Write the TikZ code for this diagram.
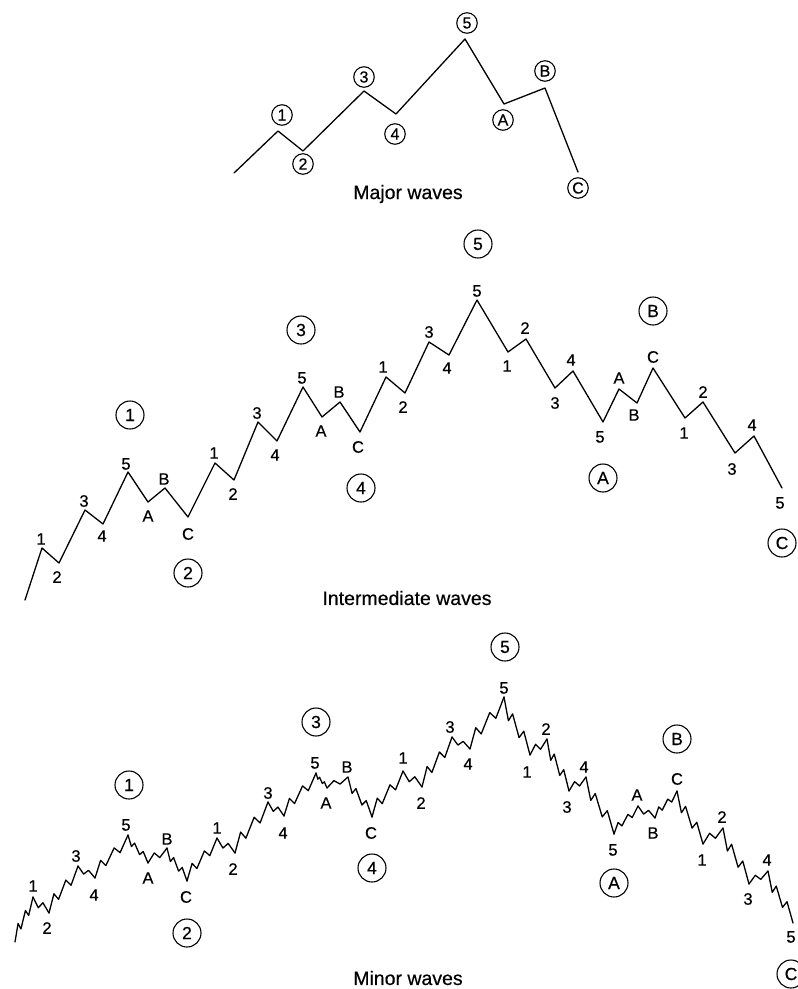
\documentclass[tikz,border=0pt]{standalone}
\usepackage{fontspec}
\setmainfont{Liberation Sans}[FakeBold=0.5]
\usetikzlibrary{calc}
\tikzset{
  wave/.style={line width=1.3pt,line join=round,line cap=round},
  lbl/.style={inner sep=0pt,font=\fontsize{16.5}{16.5}\selectfont},
  cbig/.style={circle,draw,line width=1.1pt,minimum size=28pt,inner sep=0pt,font=\fontsize{17.5}{17.5}\selectfont},
  csmall/.style={circle,draw,line width=1.1pt,minimum size=20.5pt,inner sep=0pt,font=\fontsize{16}{16}\selectfont},
  ttl/.style={inner sep=0pt,font=\fontsize{19.5}{20}\selectfont}
}
\newcommand\wfive[2]{%
  \draw[wave] let \p1=(#1), \p2=(#2) in
   (\p1) -- ({\x1+0.17*(\x2-\x1)},{\y1+0.41*(\y2-\y1)})
   -- ({\x1+0.33*(\x2-\x1)},{\y1+0.29*(\y2-\y1)})
   -- ({\x1+0.58*(\x2-\x1)},{\y1+0.70*(\y2-\y1)})
   -- ({\x1+0.76*(\x2-\x1)},{\y1+0.59*(\y2-\y1)})
   -- (\p2);}
\newcommand\wthree[2]{%
  \draw[wave] let \p1=(#1), \p2=(#2) in
   (\p1) -- ({\x1+0.33*(\x2-\x1)},{\y1+0.67*(\y2-\y1)})
   -- ({\x1+0.62*(\x2-\x1)},{\y1+0.36*(\y2-\y1)})
   -- (\p2);}
\begin{document}
\begin{tikzpicture}[x=1pt,y=-1pt]
\useasboundingbox (0,0) rectangle (798,989);
% ---------------- Major waves ----------------
\foreach \n/\x/\y in {0/234/173,1/278/131,2/303/151,3/364/91,4/396/114,5/465/39,6/504/104,7/545/88,8/578/172}
  \coordinate (M\n) at (\x,\y);
\draw[wave] (M0) \foreach \i in {1,...,8}{ -- (M\i)};
\foreach \n/\x/\y/\t in {1/282/115/1,2/303/164/2,3/364/77/3,4/395/134/4,5/467/23/5,6/503/120/A,7/545/71/B,8/578/188/C}
  \node[csmall] (MC\n) at (\x,\y) {\t};
\node[ttl] (Mt) at (408,194) {Major waves};
% ---------------- Intermediate waves ----------------
\foreach \n/\x/\y in {0/25/600,1/42/548,2/59/563,3/85/510,4/103/524,5/128/472,6/148/502,7/165/488,8/188/517,
  9/215/463,10/234/480,11/258/422,12/277/441,13/303/387,14/322/417,15/340/402,16/360/432,
  17/386/377,18/405/393,19/429/342,20/449/355,21/477/300,22/508/352,23/526/339,24/555/388,
  25/573/371,26/603/422,27/619/389,28/637/403,29/653/368,30/685/418,31/703/402,32/735/453,
  33/754/436,34/782/488}
  \coordinate (m\n) at (\x,\y);
\draw[wave] (m0) \foreach \i in {1,...,34}{ -- (m\i)};
\foreach \n/\x/\y/\t in {1/41/539/1,2/57/577/2,3/84/501/3,4/102/536/4,5/126/464/5,6/148/516/A,7/164/479/B,8/188/534/C,
  9/214/453/1,10/233/494/2,11/257/413/3,12/275/455/4,13/302/378/5,14/321/431/A,15/339/392/B,16/358/447/C,
  17/383/367/1,18/403/407/2,19/429/332/3,20/447/368/4,21/477/291/5,22/507/366/1,23/525/328/2,24/555/403/3,
  25/571/360/4,26/600/437/5,27/619/378/A,28/634/415/B,29/653/357/C,30/684/433/1,31/703/392/2,32/732/469/3,
  33/752/425/4,34/780/503/5}
  \node[lbl] (il\n) at (\x,\y) {\t};
\foreach \n/\x/\y/\t in {1/130/415/1,2/188/573/2,3/301/330/3,4/361/488/4,5/478/244/5,6/603/478/A,7/653/311/B,8/782/543/C}
  \node[cbig] (IC\n) at (\x,\y) {\t};
\node[ttl] (It) at (407,598) {Intermediate waves};
% ---------------- Minor waves ----------------
\foreach \n/\x/\y in {0/15/942,1/33/897,2/49/913,3/78/866,4/95/878,5/128/835,6/148/863,7/167/848,8/187/881,
  9/217/838,10/235/853,11/268/802,12/284/816,13/316/773,14/327/788,15/348/777,16/372/817,
  17/403/771,18/422/787,19/452/737,20/470/749,21/504/697,22/530/755,23/547/739,24/569/791,
  25/586/777,26/614/834,27/638/806,28/655/818,29/677/791,30/703/844,31/723/828,32/749/884,
  33/768/871,34/793/923}
  \coordinate (b\n) at (\x,\y);
\foreach \a/\b/\k in {0/1/5,1/2/3,2/3/5,3/4/3,4/5/5,5/6/5,6/7/3,7/8/5,8/9/5,9/10/3,10/11/5,11/12/3,12/13/5,
  13/14/5,14/15/3,15/16/5,16/17/5,17/18/3,18/19/5,19/20/3,20/21/5,21/22/5,22/23/3,23/24/5,24/25/3,25/26/5,
  26/27/5,27/28/3,28/29/5,29/30/5,30/31/3,31/32/5,32/33/3,33/34/5}
  {\ifnum\k=5 \wfive{b\a}{b\b}\else\wthree{b\a}{b\b}\fi}
\foreach \n/\x/\y/\t in {1/33/886/1,2/47/928/2,3/76/856/3,4/94/895/4,5/126/825/5,6/148/878/A,7/167/839/B,8/186/897/C,
  9/217/828/1,10/233/869/2,11/268/793/3,12/283/833/4,13/315/763/5,14/326/803/A,15/347/767/B,16/371/833/C,
  17/403/758/1,18/421/803/2,19/450/727/3,20/468/764/4,21/504/688/5,22/527/772/1,23/546/729/2,24/567/807/3,
  25/584/767/4,26/613/850/5,27/637/795/A,28/653/833/B,29/677/779/C,30/702/860/1,31/722/817/2,32/748/899/3,
  33/767/860/4,34/791/937/5}
  \node[lbl] (bl\n) at (\x,\y) {\t};
\foreach \n/\x/\y/\t in {1/129/785/1,2/187/933/2,3/316/722/3,4/372/868/4,5/505/647/5,6/614/883/A,7/677/739/B,8/791/974/C}
  \node[cbig] (BC\n) at (\x,\y) {\t};
\node[ttl] (Bt) at (408,978) {Minor waves};
\end{tikzpicture}
\end{document}
